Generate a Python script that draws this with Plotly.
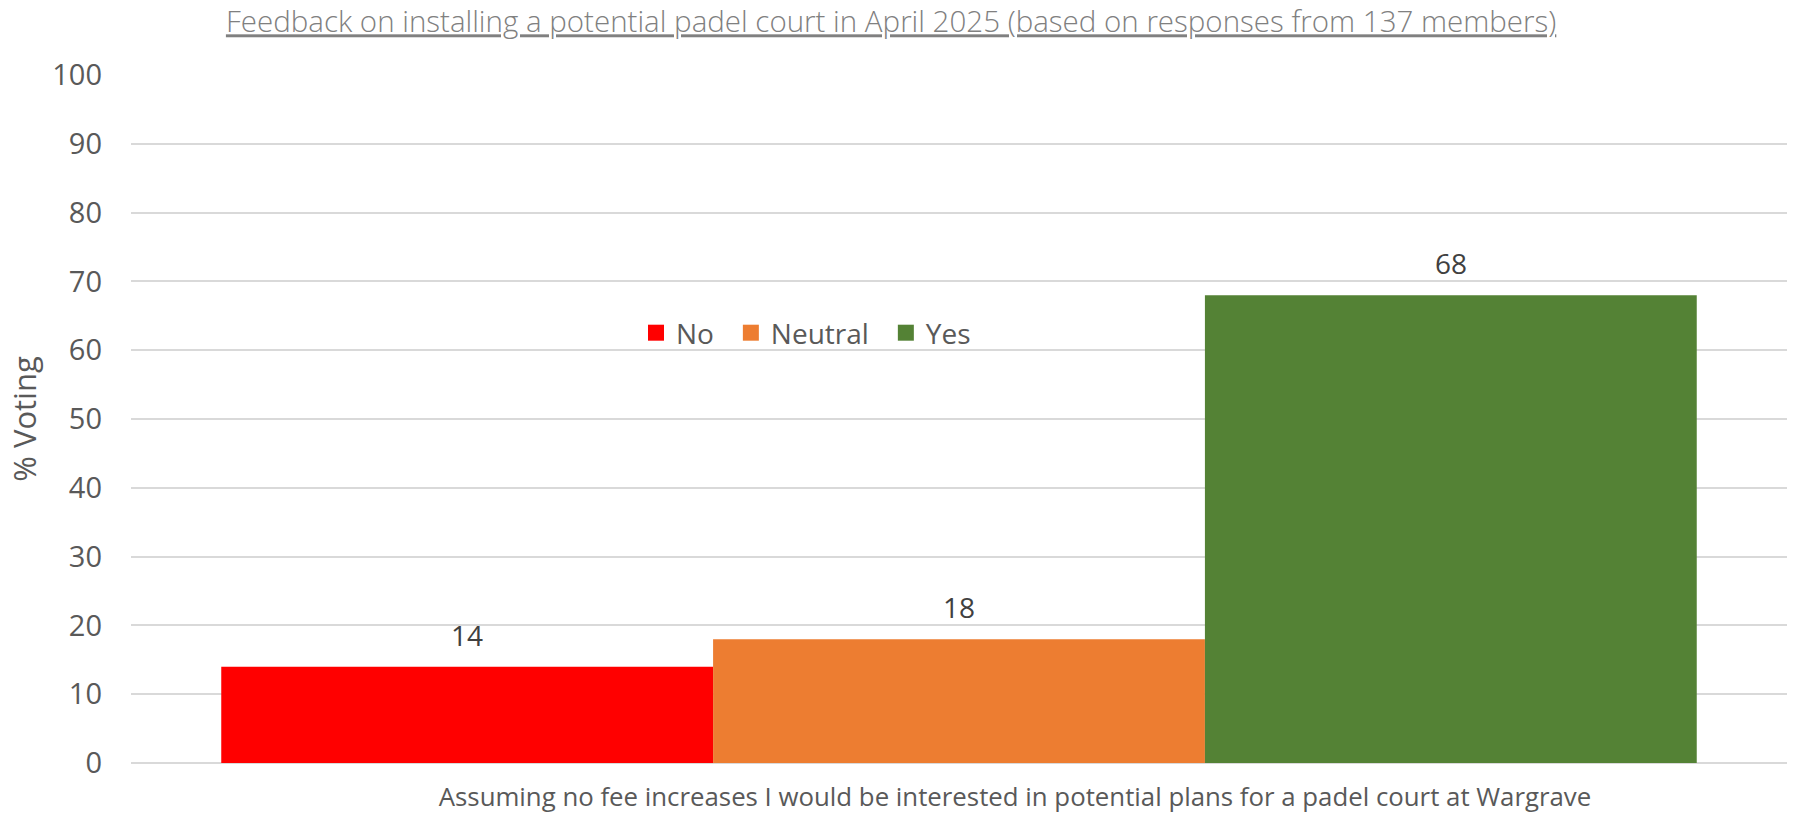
import plotly.graph_objects as go

QUESTION = 'Assuming no fee increases I would be interested in potential plans for a padel court at Wargrave'
ANSWERS = ['No', 'Neutral', 'Yes']
PERCENT_VOTING = [14, 18, 68]
COLORS = ['#ff0000', '#ed7d31', '#548235']

TITLE = 'Feedback on installing a potential padel court in April 2025 (based on responses from 137 members)'
FONT = 'Open Sans'
BARGAP = 0.109
# a little trailing space widens the gap between legend entries
LEGEND_PAD = '\u00a0\u2006'

fig = go.Figure()
for i, (answer, value, color) in enumerate(zip(ANSWERS, PERCENT_VOTING, COLORS)):
    fig.add_trace(go.Bar(
        x=[QUESTION],
        y=[value],
        name=answer,
        legendgroup=answer,
        showlegend=False,
        marker=dict(color=color, line=dict(width=0)),
        hoverinfo='y+name'
    ))
    # legend-only entry, so the key gets a bigger square than the bar default
    fig.add_trace(go.Scatter(
        x=[None], y=[None],
        mode='markers',
        name=answer + (LEGEND_PAD if i < len(ANSWERS) - 1 else ''),
        legendgroup=answer,
        marker=dict(symbol='square', size=18, color=color)
    ))

# data labels above each bar (grouped bars share the single category slot)
bar_width = (1 - BARGAP) / len(ANSWERS)
for i, value in enumerate(PERCENT_VOTING):
    fig.add_annotation(
        x=(i - (len(ANSWERS) - 1) / 2) * bar_width,
        y=value,
        text=str(value),
        showarrow=False,
        yanchor='bottom',
        yshift=11,
        font=dict(family=FONT, size=28, color='#404040')
    )

fig.update_layout(
    width=1793,
    height=815,
    barmode='group',
    bargap=BARGAP,
    bargroupgap=0,
    plot_bgcolor='white',
    paper_bgcolor='white',
    margin=dict(l=131, r=6, t=75, b=52),
    font=dict(family=FONT, color='#595959'),
    title=dict(
        text=f'<u>{TITLE}</u>',
        x=0.497,
        xref='container',
        xanchor='center',
        y=0.973,
        yanchor='middle',
        font=dict(family=FONT, size=29.5, color='#808080', weight=300)
    ),
    legend=dict(
        orientation='h',
        x=0.4076,
        y=0.625,
        xanchor='center',
        yanchor='middle',
        itemsizing='trace',
        font=dict(family=FONT, size=28, color='#595959'),
        bgcolor='rgba(0,0,0,0)'
    ),
    xaxis=dict(
        type='category',
        range=[-0.5, 0.5],
        automargin=False,
        showgrid=False,
        showline=False,
        ticks='',
        ticklabelstandoff=16,
        ticklabelshift=56,
        tickfont=dict(family=FONT, size=25.8, color='#595959')
    ),
    yaxis=dict(
        range=[0, 100],
        dtick=10,
        automargin=False,
        showgrid=True,
        gridcolor='#d9d9d9',
        gridwidth=2,
        zeroline=True,
        zerolinecolor='#d9d9d9',
        zerolinewidth=2,
        ticks='',
        ticklabelstandoff=28,
        tickfont=dict(family=FONT, size=29, color='#595959'),
        title=dict(text='% Voting', standoff=6,
                   font=dict(family=FONT, size=31, color='#595959'))
    )
)

# the page body has a default 8px margin that would shift the fixed-size figure
fig.write_html('out.html', config={'displayModeBar': False},
               post_script="document.body.style.margin = '0';")
